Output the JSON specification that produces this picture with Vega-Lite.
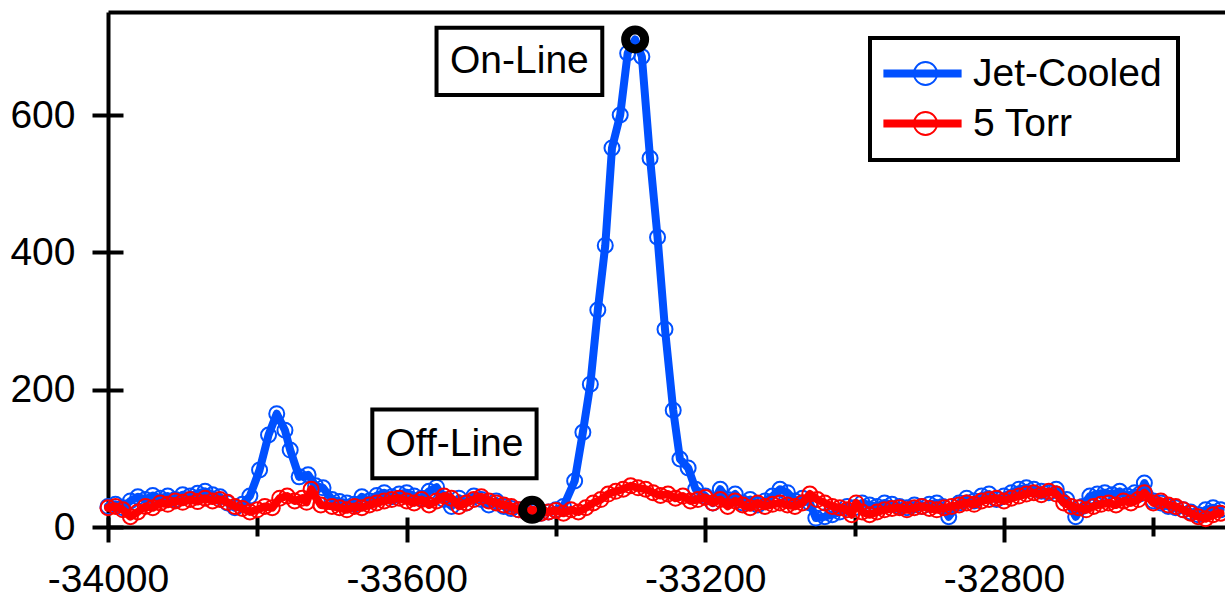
{
  "$schema": "https://vega.github.io/schema/vega-lite/v6.json",
  "width": 1117,
  "height": 515,
  "autosize": {"type": "none"},
  "padding": {"left": 108, "top": 12, "right": 0, "bottom": 76},
  "config": {
    "view": {"stroke": null},
    "font": "Liberation Sans",
    "legend": {"strokeWidth": 4},
    "axis": {"labelFont": "Liberation Sans", "labelColor": "black", "domainColor": "black", "tickColor": "black", "grid": false, "title": null}
  },
  "datasets": {
    "spectra": [
      {"series": "Jet-Cooled", "shift": -34000, "signal": 30},
      {"series": "Jet-Cooled", "shift": -33990, "signal": 33},
      {"series": "Jet-Cooled", "shift": -33980, "signal": 28},
      {"series": "Jet-Cooled", "shift": -33970, "signal": 38},
      {"series": "Jet-Cooled", "shift": -33960, "signal": 44},
      {"series": "Jet-Cooled", "shift": -33950, "signal": 40},
      {"series": "Jet-Cooled", "shift": -33940, "signal": 46},
      {"series": "Jet-Cooled", "shift": -33930, "signal": 42},
      {"series": "Jet-Cooled", "shift": -33920, "signal": 45},
      {"series": "Jet-Cooled", "shift": -33910, "signal": 40},
      {"series": "Jet-Cooled", "shift": -33900, "signal": 47},
      {"series": "Jet-Cooled", "shift": -33890, "signal": 45},
      {"series": "Jet-Cooled", "shift": -33880, "signal": 49},
      {"series": "Jet-Cooled", "shift": -33870, "signal": 52},
      {"series": "Jet-Cooled", "shift": -33860, "signal": 47},
      {"series": "Jet-Cooled", "shift": -33850, "signal": 44},
      {"series": "Jet-Cooled", "shift": -33840, "signal": 35},
      {"series": "Jet-Cooled", "shift": -33830, "signal": 28},
      {"series": "Jet-Cooled", "shift": -33820, "signal": 33},
      {"series": "Jet-Cooled", "shift": -33810, "signal": 45},
      {"series": "Jet-Cooled", "shift": -33797, "signal": 83},
      {"series": "Jet-Cooled", "shift": -33785, "signal": 134},
      {"series": "Jet-Cooled", "shift": -33774, "signal": 165},
      {"series": "Jet-Cooled", "shift": -33763, "signal": 141},
      {"series": "Jet-Cooled", "shift": -33756, "signal": 112},
      {"series": "Jet-Cooled", "shift": -33744, "signal": 73},
      {"series": "Jet-Cooled", "shift": -33732, "signal": 76},
      {"series": "Jet-Cooled", "shift": -33722, "signal": 60},
      {"series": "Jet-Cooled", "shift": -33712, "signal": 57},
      {"series": "Jet-Cooled", "shift": -33700, "signal": 40},
      {"series": "Jet-Cooled", "shift": -33690, "signal": 37},
      {"series": "Jet-Cooled", "shift": -33680, "signal": 35},
      {"series": "Jet-Cooled", "shift": -33670, "signal": 33},
      {"series": "Jet-Cooled", "shift": -33660, "signal": 44},
      {"series": "Jet-Cooled", "shift": -33650, "signal": 38},
      {"series": "Jet-Cooled", "shift": -33640, "signal": 46},
      {"series": "Jet-Cooled", "shift": -33630, "signal": 50},
      {"series": "Jet-Cooled", "shift": -33620, "signal": 44},
      {"series": "Jet-Cooled", "shift": -33610, "signal": 48},
      {"series": "Jet-Cooled", "shift": -33600, "signal": 50},
      {"series": "Jet-Cooled", "shift": -33590, "signal": 45},
      {"series": "Jet-Cooled", "shift": -33580, "signal": 42},
      {"series": "Jet-Cooled", "shift": -33570, "signal": 52},
      {"series": "Jet-Cooled", "shift": -33560, "signal": 58},
      {"series": "Jet-Cooled", "shift": -33550, "signal": 40},
      {"series": "Jet-Cooled", "shift": -33540, "signal": 30},
      {"series": "Jet-Cooled", "shift": -33530, "signal": 42},
      {"series": "Jet-Cooled", "shift": -33520, "signal": 35},
      {"series": "Jet-Cooled", "shift": -33510, "signal": 45},
      {"series": "Jet-Cooled", "shift": -33500, "signal": 40},
      {"series": "Jet-Cooled", "shift": -33490, "signal": 32},
      {"series": "Jet-Cooled", "shift": -33480, "signal": 38},
      {"series": "Jet-Cooled", "shift": -33470, "signal": 30},
      {"series": "Jet-Cooled", "shift": -33460, "signal": 27},
      {"series": "Jet-Cooled", "shift": -33450, "signal": 25},
      {"series": "Jet-Cooled", "shift": -33440, "signal": 22},
      {"series": "Jet-Cooled", "shift": -33430, "signal": 22},
      {"series": "Jet-Cooled", "shift": -33420, "signal": 20},
      {"series": "Jet-Cooled", "shift": -33410, "signal": 22},
      {"series": "Jet-Cooled", "shift": -33400, "signal": 25},
      {"series": "Jet-Cooled", "shift": -33390, "signal": 30},
      {"series": "Jet-Cooled", "shift": -33375, "signal": 67},
      {"series": "Jet-Cooled", "shift": -33364, "signal": 138},
      {"series": "Jet-Cooled", "shift": -33354, "signal": 208},
      {"series": "Jet-Cooled", "shift": -33344, "signal": 316},
      {"series": "Jet-Cooled", "shift": -33334, "signal": 410},
      {"series": "Jet-Cooled", "shift": -33325, "signal": 552},
      {"series": "Jet-Cooled", "shift": -33314, "signal": 600},
      {"series": "Jet-Cooled", "shift": -33304, "signal": 690},
      {"series": "Jet-Cooled", "shift": -33294, "signal": 710},
      {"series": "Jet-Cooled", "shift": -33285, "signal": 685},
      {"series": "Jet-Cooled", "shift": -33274, "signal": 537},
      {"series": "Jet-Cooled", "shift": -33264, "signal": 422},
      {"series": "Jet-Cooled", "shift": -33254, "signal": 288},
      {"series": "Jet-Cooled", "shift": -33243, "signal": 170},
      {"series": "Jet-Cooled", "shift": -33234, "signal": 99},
      {"series": "Jet-Cooled", "shift": -33223, "signal": 86},
      {"series": "Jet-Cooled", "shift": -33213, "signal": 55},
      {"series": "Jet-Cooled", "shift": -33200, "signal": 45},
      {"series": "Jet-Cooled", "shift": -33190, "signal": 35},
      {"series": "Jet-Cooled", "shift": -33180, "signal": 55},
      {"series": "Jet-Cooled", "shift": -33170, "signal": 40},
      {"series": "Jet-Cooled", "shift": -33160, "signal": 48},
      {"series": "Jet-Cooled", "shift": -33150, "signal": 35},
      {"series": "Jet-Cooled", "shift": -33140, "signal": 40},
      {"series": "Jet-Cooled", "shift": -33130, "signal": 32},
      {"series": "Jet-Cooled", "shift": -33120, "signal": 38},
      {"series": "Jet-Cooled", "shift": -33110, "signal": 45},
      {"series": "Jet-Cooled", "shift": -33100, "signal": 55},
      {"series": "Jet-Cooled", "shift": -33090, "signal": 50},
      {"series": "Jet-Cooled", "shift": -33080, "signal": 38},
      {"series": "Jet-Cooled", "shift": -33070, "signal": 42},
      {"series": "Jet-Cooled", "shift": -33060, "signal": 35},
      {"series": "Jet-Cooled", "shift": -33052, "signal": 13},
      {"series": "Jet-Cooled", "shift": -33040, "signal": 15},
      {"series": "Jet-Cooled", "shift": -33030, "signal": 18},
      {"series": "Jet-Cooled", "shift": -33020, "signal": 22},
      {"series": "Jet-Cooled", "shift": -33010, "signal": 30},
      {"series": "Jet-Cooled", "shift": -33000, "signal": 28},
      {"series": "Jet-Cooled", "shift": -32990, "signal": 35},
      {"series": "Jet-Cooled", "shift": -32980, "signal": 32},
      {"series": "Jet-Cooled", "shift": -32970, "signal": 30},
      {"series": "Jet-Cooled", "shift": -32960, "signal": 35},
      {"series": "Jet-Cooled", "shift": -32950, "signal": 33},
      {"series": "Jet-Cooled", "shift": -32940, "signal": 30},
      {"series": "Jet-Cooled", "shift": -32930, "signal": 28},
      {"series": "Jet-Cooled", "shift": -32920, "signal": 32},
      {"series": "Jet-Cooled", "shift": -32910, "signal": 30},
      {"series": "Jet-Cooled", "shift": -32900, "signal": 33},
      {"series": "Jet-Cooled", "shift": -32890, "signal": 35},
      {"series": "Jet-Cooled", "shift": -32882, "signal": 30},
      {"series": "Jet-Cooled", "shift": -32874, "signal": 15},
      {"series": "Jet-Cooled", "shift": -32860, "signal": 35},
      {"series": "Jet-Cooled", "shift": -32850, "signal": 42},
      {"series": "Jet-Cooled", "shift": -32840, "signal": 38},
      {"series": "Jet-Cooled", "shift": -32830, "signal": 45},
      {"series": "Jet-Cooled", "shift": -32820, "signal": 48},
      {"series": "Jet-Cooled", "shift": -32810, "signal": 40},
      {"series": "Jet-Cooled", "shift": -32800, "signal": 45},
      {"series": "Jet-Cooled", "shift": -32790, "signal": 50},
      {"series": "Jet-Cooled", "shift": -32780, "signal": 55},
      {"series": "Jet-Cooled", "shift": -32770, "signal": 57},
      {"series": "Jet-Cooled", "shift": -32760, "signal": 55},
      {"series": "Jet-Cooled", "shift": -32750, "signal": 52},
      {"series": "Jet-Cooled", "shift": -32740, "signal": 50},
      {"series": "Jet-Cooled", "shift": -32730, "signal": 55},
      {"series": "Jet-Cooled", "shift": -32716, "signal": 40},
      {"series": "Jet-Cooled", "shift": -32704, "signal": 15},
      {"series": "Jet-Cooled", "shift": -32695, "signal": 30},
      {"series": "Jet-Cooled", "shift": -32685, "signal": 45},
      {"series": "Jet-Cooled", "shift": -32675, "signal": 48},
      {"series": "Jet-Cooled", "shift": -32665, "signal": 50},
      {"series": "Jet-Cooled", "shift": -32655, "signal": 47},
      {"series": "Jet-Cooled", "shift": -32645, "signal": 52},
      {"series": "Jet-Cooled", "shift": -32635, "signal": 45},
      {"series": "Jet-Cooled", "shift": -32625, "signal": 50},
      {"series": "Jet-Cooled", "shift": -32618, "signal": 48},
      {"series": "Jet-Cooled", "shift": -32612, "signal": 64},
      {"series": "Jet-Cooled", "shift": -32600, "signal": 38},
      {"series": "Jet-Cooled", "shift": -32590, "signal": 35},
      {"series": "Jet-Cooled", "shift": -32580, "signal": 30},
      {"series": "Jet-Cooled", "shift": -32570, "signal": 28},
      {"series": "Jet-Cooled", "shift": -32560, "signal": 25},
      {"series": "Jet-Cooled", "shift": -32550, "signal": 22},
      {"series": "Jet-Cooled", "shift": -32540, "signal": 18},
      {"series": "Jet-Cooled", "shift": -32530, "signal": 25},
      {"series": "Jet-Cooled", "shift": -32520, "signal": 28},
      {"series": "Jet-Cooled", "shift": -32510, "signal": 25},
      {"series": "5 Torr", "shift": -34000, "signal": 28},
      {"series": "5 Torr", "shift": -33990, "signal": 30},
      {"series": "5 Torr", "shift": -33980, "signal": 25},
      {"series": "5 Torr", "shift": -33970, "signal": 15},
      {"series": "5 Torr", "shift": -33960, "signal": 22},
      {"series": "5 Torr", "shift": -33950, "signal": 30},
      {"series": "5 Torr", "shift": -33940, "signal": 28},
      {"series": "5 Torr", "shift": -33930, "signal": 35},
      {"series": "5 Torr", "shift": -33920, "signal": 33},
      {"series": "5 Torr", "shift": -33910, "signal": 38},
      {"series": "5 Torr", "shift": -33900, "signal": 36},
      {"series": "5 Torr", "shift": -33890, "signal": 40},
      {"series": "5 Torr", "shift": -33880, "signal": 37},
      {"series": "5 Torr", "shift": -33870, "signal": 42},
      {"series": "5 Torr", "shift": -33860, "signal": 38},
      {"series": "5 Torr", "shift": -33850, "signal": 40},
      {"series": "5 Torr", "shift": -33840, "signal": 36},
      {"series": "5 Torr", "shift": -33830, "signal": 30},
      {"series": "5 Torr", "shift": -33820, "signal": 27},
      {"series": "5 Torr", "shift": -33810, "signal": 22},
      {"series": "5 Torr", "shift": -33800, "signal": 25},
      {"series": "5 Torr", "shift": -33790, "signal": 30},
      {"series": "5 Torr", "shift": -33780, "signal": 28},
      {"series": "5 Torr", "shift": -33770, "signal": 42},
      {"series": "5 Torr", "shift": -33760, "signal": 45},
      {"series": "5 Torr", "shift": -33750, "signal": 38},
      {"series": "5 Torr", "shift": -33740, "signal": 42},
      {"series": "5 Torr", "shift": -33734, "signal": 36},
      {"series": "5 Torr", "shift": -33728, "signal": 55},
      {"series": "5 Torr", "shift": -33715, "signal": 32},
      {"series": "5 Torr", "shift": -33700, "signal": 30},
      {"series": "5 Torr", "shift": -33690, "signal": 28},
      {"series": "5 Torr", "shift": -33680, "signal": 25},
      {"series": "5 Torr", "shift": -33670, "signal": 30},
      {"series": "5 Torr", "shift": -33660, "signal": 28},
      {"series": "5 Torr", "shift": -33650, "signal": 32},
      {"series": "5 Torr", "shift": -33640, "signal": 35},
      {"series": "5 Torr", "shift": -33630, "signal": 38},
      {"series": "5 Torr", "shift": -33620, "signal": 40},
      {"series": "5 Torr", "shift": -33610, "signal": 42},
      {"series": "5 Torr", "shift": -33600, "signal": 38},
      {"series": "5 Torr", "shift": -33590, "signal": 35},
      {"series": "5 Torr", "shift": -33580, "signal": 40},
      {"series": "5 Torr", "shift": -33570, "signal": 32},
      {"series": "5 Torr", "shift": -33560, "signal": 38},
      {"series": "5 Torr", "shift": -33550, "signal": 45},
      {"series": "5 Torr", "shift": -33540, "signal": 42},
      {"series": "5 Torr", "shift": -33530, "signal": 30},
      {"series": "5 Torr", "shift": -33520, "signal": 35},
      {"series": "5 Torr", "shift": -33510, "signal": 40},
      {"series": "5 Torr", "shift": -33500, "signal": 44},
      {"series": "5 Torr", "shift": -33490, "signal": 38},
      {"series": "5 Torr", "shift": -33480, "signal": 35},
      {"series": "5 Torr", "shift": -33470, "signal": 32},
      {"series": "5 Torr", "shift": -33460, "signal": 30},
      {"series": "5 Torr", "shift": -33450, "signal": 25},
      {"series": "5 Torr", "shift": -33440, "signal": 22},
      {"series": "5 Torr", "shift": -33430, "signal": 25},
      {"series": "5 Torr", "shift": -33420, "signal": 20},
      {"series": "5 Torr", "shift": -33410, "signal": 22},
      {"series": "5 Torr", "shift": -33400, "signal": 24},
      {"series": "5 Torr", "shift": -33390, "signal": 20},
      {"series": "5 Torr", "shift": -33380, "signal": 25},
      {"series": "5 Torr", "shift": -33370, "signal": 22},
      {"series": "5 Torr", "shift": -33360, "signal": 28},
      {"series": "5 Torr", "shift": -33350, "signal": 35},
      {"series": "5 Torr", "shift": -33340, "signal": 40},
      {"series": "5 Torr", "shift": -33330, "signal": 48},
      {"series": "5 Torr", "shift": -33320, "signal": 52},
      {"series": "5 Torr", "shift": -33310, "signal": 55},
      {"series": "5 Torr", "shift": -33300, "signal": 60},
      {"series": "5 Torr", "shift": -33290, "signal": 57},
      {"series": "5 Torr", "shift": -33280, "signal": 55},
      {"series": "5 Torr", "shift": -33270, "signal": 50},
      {"series": "5 Torr", "shift": -33260, "signal": 46},
      {"series": "5 Torr", "shift": -33250, "signal": 48},
      {"series": "5 Torr", "shift": -33240, "signal": 42},
      {"series": "5 Torr", "shift": -33230, "signal": 45},
      {"series": "5 Torr", "shift": -33220, "signal": 38},
      {"series": "5 Torr", "shift": -33210, "signal": 40},
      {"series": "5 Torr", "shift": -33200, "signal": 43},
      {"series": "5 Torr", "shift": -33190, "signal": 35},
      {"series": "5 Torr", "shift": -33180, "signal": 40},
      {"series": "5 Torr", "shift": -33170, "signal": 30},
      {"series": "5 Torr", "shift": -33160, "signal": 38},
      {"series": "5 Torr", "shift": -33150, "signal": 32},
      {"series": "5 Torr", "shift": -33140, "signal": 28},
      {"series": "5 Torr", "shift": -33130, "signal": 35},
      {"series": "5 Torr", "shift": -33120, "signal": 30},
      {"series": "5 Torr", "shift": -33110, "signal": 33},
      {"series": "5 Torr", "shift": -33100, "signal": 35},
      {"series": "5 Torr", "shift": -33090, "signal": 32},
      {"series": "5 Torr", "shift": -33080, "signal": 30},
      {"series": "5 Torr", "shift": -33070, "signal": 35},
      {"series": "5 Torr", "shift": -33060, "signal": 48},
      {"series": "5 Torr", "shift": -33050, "signal": 40},
      {"series": "5 Torr", "shift": -33040, "signal": 35},
      {"series": "5 Torr", "shift": -33030, "signal": 30},
      {"series": "5 Torr", "shift": -33020, "signal": 28},
      {"series": "5 Torr", "shift": -33010, "signal": 25},
      {"series": "5 Torr", "shift": -33004, "signal": 18},
      {"series": "5 Torr", "shift": -32998, "signal": 35},
      {"series": "5 Torr", "shift": -32990, "signal": 22},
      {"series": "5 Torr", "shift": -32980, "signal": 18},
      {"series": "5 Torr", "shift": -32970, "signal": 22},
      {"series": "5 Torr", "shift": -32960, "signal": 25},
      {"series": "5 Torr", "shift": -32950, "signal": 27},
      {"series": "5 Torr", "shift": -32940, "signal": 28},
      {"series": "5 Torr", "shift": -32930, "signal": 25},
      {"series": "5 Torr", "shift": -32920, "signal": 28},
      {"series": "5 Torr", "shift": -32910, "signal": 30},
      {"series": "5 Torr", "shift": -32900, "signal": 27},
      {"series": "5 Torr", "shift": -32890, "signal": 25},
      {"series": "5 Torr", "shift": -32880, "signal": 28},
      {"series": "5 Torr", "shift": -32870, "signal": 30},
      {"series": "5 Torr", "shift": -32860, "signal": 32},
      {"series": "5 Torr", "shift": -32850, "signal": 35},
      {"series": "5 Torr", "shift": -32840, "signal": 33},
      {"series": "5 Torr", "shift": -32830, "signal": 38},
      {"series": "5 Torr", "shift": -32820, "signal": 40},
      {"series": "5 Torr", "shift": -32810, "signal": 42},
      {"series": "5 Torr", "shift": -32800, "signal": 38},
      {"series": "5 Torr", "shift": -32790, "signal": 42},
      {"series": "5 Torr", "shift": -32780, "signal": 45},
      {"series": "5 Torr", "shift": -32770, "signal": 48},
      {"series": "5 Torr", "shift": -32760, "signal": 50},
      {"series": "5 Torr", "shift": -32750, "signal": 47},
      {"series": "5 Torr", "shift": -32740, "signal": 52},
      {"series": "5 Torr", "shift": -32730, "signal": 48},
      {"series": "5 Torr", "shift": -32720, "signal": 35},
      {"series": "5 Torr", "shift": -32710, "signal": 30},
      {"series": "5 Torr", "shift": -32700, "signal": 28},
      {"series": "5 Torr", "shift": -32690, "signal": 25},
      {"series": "5 Torr", "shift": -32680, "signal": 30},
      {"series": "5 Torr", "shift": -32670, "signal": 33},
      {"series": "5 Torr", "shift": -32660, "signal": 35},
      {"series": "5 Torr", "shift": -32650, "signal": 32},
      {"series": "5 Torr", "shift": -32640, "signal": 38},
      {"series": "5 Torr", "shift": -32630, "signal": 35},
      {"series": "5 Torr", "shift": -32620, "signal": 40},
      {"series": "5 Torr", "shift": -32612, "signal": 50},
      {"series": "5 Torr", "shift": -32600, "signal": 35},
      {"series": "5 Torr", "shift": -32590, "signal": 38},
      {"series": "5 Torr", "shift": -32580, "signal": 32},
      {"series": "5 Torr", "shift": -32570, "signal": 30},
      {"series": "5 Torr", "shift": -32560, "signal": 25},
      {"series": "5 Torr", "shift": -32550, "signal": 20},
      {"series": "5 Torr", "shift": -32540, "signal": 15},
      {"series": "5 Torr", "shift": -32530, "signal": 12},
      {"series": "5 Torr", "shift": -32520, "signal": 18},
      {"series": "5 Torr", "shift": -32510, "signal": 20}
    ],
    "markers": [
      {"point": "On-Line", "shift": -33294, "signal": 710},
      {"point": "Off-Line", "shift": -33432, "signal": 25}
    ],
    "labels": [
      {"label": "On-Line", "shift": -33449, "signal": 678, "left": -33560, "right": -33338, "bottom": 629, "top": 727},
      {"label": "Off-Line", "shift": -33536, "signal": 121, "left": -33646, "right": -33426, "bottom": 71, "top": 171}
    ]
  },
  "resolve": {"axis": {"x": "independent", "y": "independent"}},
  "layer": [
    {
      "data": {"name": "spectra"},
      "transform": [{"filter": "datum.series == 'Jet-Cooled'"}],
      "mark": {"type": "line", "strokeWidth": 8, "strokeJoin": "round", "strokeCap": "round"},
      "encoding": {
        "x": {"field": "shift", "type": "quantitative", "scale": {"domain": [-34000, -32504], "nice": false, "zero": false},
          "axis": {"orient": "bottom", "values": [-34000, -33600, -33200, -32800],
            "labelExpr": "'' + datum.value",
            "tickSize": 15, "tickWidth": 4, "domainWidth": 4, "labelFontSize": 39, "labelPadding": 18,
            "labelFlush": false, "labelOverlap": false, "labelBound": false}},
        "y": {"field": "signal", "type": "quantitative", "scale": {"domain": [0, 750], "nice": false},
          "axis": {"orient": "left", "values": [0, 200, 400, 600], "tickSize": 16, "tickWidth": 4, "domainWidth": 4,
            "labelFontSize": 39, "labelPadding": 17, "labelOverlap": false, "labelBound": false, "labelFlush": false}},
        "color": {"field": "series", "type": "nominal",
          "scale": {"domain": ["Jet-Cooled", "5 Torr"], "range": ["#0050ff", "#ff0000"]},
          "legend": {"orient": "none", "legendX": 762, "legendY": 26, "title": null,
            "symbolType": "M-3.4,0H3.4", "symbolSize": 529, "symbolStrokeWidth": 8, "symbolOffset": 17,
            "labelOffset": 31, "labelFontSize": 39, "labelFont": "Liberation Sans", "labelColor": "black", "labelLimit": 400,
            "labelExpr": "datum.label + '\u00a0'",
            "padding": 16, "rowPadding": 10, "strokeColor": "black"}}
      }
    },
    {
      "data": {"name": "spectra"},
      "transform": [{"filter": "datum.series == 'Jet-Cooled'"}],
      "mark": {"type": "point", "filled": false, "size": 225, "strokeWidth": 2, "opacity": 1},
      "encoding": {
        "x": {"field": "shift", "type": "quantitative", "axis": null},
        "y": {"field": "signal", "type": "quantitative", "axis": null},
        "stroke": {"field": "series", "type": "nominal", "sort": ["Jet-Cooled", "5 Torr"],
          "scale": {"range": ["#0050ff", "#ff0000"]},
          "legend": {"orient": "none", "legendX": 762, "legendY": 26, "title": null,
            "symbolType": "circle", "symbolSize": 529, "symbolStrokeWidth": 2, "symbolOffset": 20,
            "symbolFillColor": "transparent",
            "labelOffset": 31, "labelFontSize": 39, "labelFont": "Liberation Sans", "labelOpacity": 0, "labelLimit": 400,
            "labelExpr": "''",
            "padding": 16, "rowPadding": 10}}
      }
    },
    {
      "data": {"name": "spectra"},
      "transform": [{"filter": "datum.series == '5 Torr'"}],
      "mark": {"type": "line", "strokeWidth": 8, "strokeJoin": "round", "strokeCap": "round"},
      "encoding": {
        "x": {"field": "shift", "type": "quantitative", "axis": null},
        "y": {"field": "signal", "type": "quantitative", "axis": null},
        "color": {"field": "series", "type": "nominal",
          "scale": {"domain": ["Jet-Cooled", "5 Torr"], "range": ["#0050ff", "#ff0000"]},
          "legend": {"orient": "none", "legendX": 762, "legendY": 26, "title": null,
            "symbolType": "M-3.4,0H3.4", "symbolSize": 529, "symbolStrokeWidth": 8, "symbolOffset": 17,
            "labelOffset": 31, "labelFontSize": 39, "labelFont": "Liberation Sans", "labelColor": "black", "labelLimit": 400,
            "labelExpr": "datum.label + '\u00a0'",
            "padding": 16, "rowPadding": 10, "strokeColor": "black"}}
      }
    },
    {
      "data": {"name": "spectra"},
      "transform": [{"filter": "datum.series == '5 Torr'"}],
      "mark": {"type": "point", "filled": false, "size": 225, "strokeWidth": 2, "opacity": 1},
      "encoding": {
        "x": {"field": "shift", "type": "quantitative", "axis": null},
        "y": {"field": "signal", "type": "quantitative", "axis": null},
        "stroke": {"field": "series", "type": "nominal", "sort": ["Jet-Cooled", "5 Torr"],
          "scale": {"range": ["#0050ff", "#ff0000"]},
          "legend": {"orient": "none", "legendX": 762, "legendY": 26, "title": null,
            "symbolType": "circle", "symbolSize": 529, "symbolStrokeWidth": 2, "symbolOffset": 20,
            "symbolFillColor": "transparent",
            "labelOffset": 31, "labelFontSize": 39, "labelFont": "Liberation Sans", "labelOpacity": 0, "labelLimit": 400,
            "labelExpr": "''",
            "padding": 16, "rowPadding": 10}}
      }
    },
    {
      "data": {"name": "markers"},
      "mark": {"type": "point", "filled": false, "size": 361, "strokeWidth": 9, "color": "black", "opacity": 1},
      "encoding": {
        "x": {"field": "shift", "type": "quantitative",
          "axis": {"orient": "bottom", "values": [-34000, -33800, -33600, -33400, -33200, -33000, -32800, -32600],
            "labels": false, "domain": false, "tickSize": -10, "tickWidth": 4}},
        "y": {"field": "signal", "type": "quantitative",
          "axis": {"orient": "left", "values": [0, 200, 400, 600], "labels": false, "domain": false, "tickSize": -15, "tickWidth": 4}}
      }
    },
    {
      "data": {"name": "labels"},
      "mark": {"type": "rect", "fill": "white", "stroke": "black", "strokeWidth": 4},
      "encoding": {
        "x": {"field": "left", "type": "quantitative",
          "axis": {"orient": "top", "labels": false, "ticks": false, "domainWidth": 4, "title": null}},
        "x2": {"field": "right"},
        "y": {"field": "bottom", "type": "quantitative", "axis": null},
        "y2": {"field": "top"}
      }
    },
    {
      "data": {"name": "labels"},
      "mark": {"type": "text", "fontSize": 39, "font": "Liberation Sans", "color": "black", "align": "center", "baseline": "middle"},
      "encoding": {
        "x": {"field": "shift", "type": "quantitative",
          "axis": {"orient": "bottom", "values": [-33800, -33400, -33000, -32600],
            "labels": false, "domain": false, "tickSize": 9, "tickWidth": 4}},
        "y": {"field": "signal", "type": "quantitative", "axis": null},
        "text": {"field": "label"}
      }
    }
  ]
}
